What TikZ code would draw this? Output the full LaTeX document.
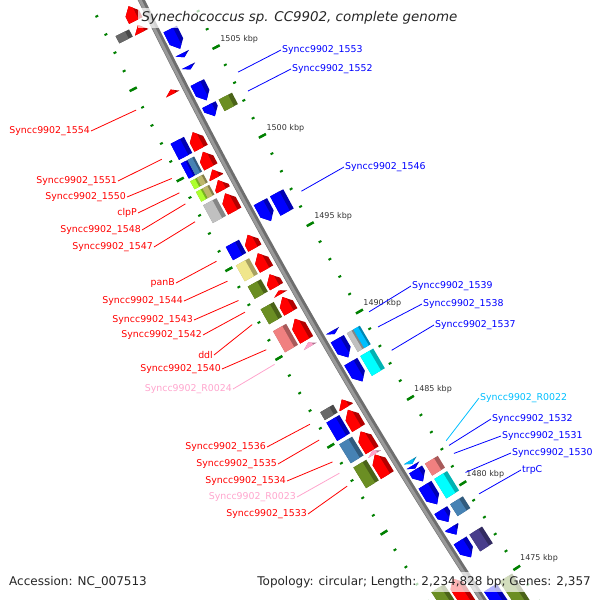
\documentclass[tikz,border=0pt]{standalone}
\usepackage{fontspec}
\setmainfont{DejaVu Sans}
\definecolor{fwdred}{RGB}{255,0,0}
\definecolor{revblue}{RGB}{0,0,255}
\definecolor{rnapink}{RGB}{255,165,205}
\definecolor{trnablue}{RGB}{0,191,255}
\definecolor{cogdim}{RGB}{105,105,105}
\definecolor{cogsteel}{RGB}{70,130,180}
\definecolor{coglime}{RGB}{173,255,47}
\definecolor{cogkhakidark}{RGB}{189,183,107}
\definecolor{cogsilver}{RGB}{192,192,192}
\definecolor{cogkhaki}{RGB}{240,230,140}
\definecolor{cogolive}{RGB}{107,142,35}
\definecolor{cogcoral}{RGB}{240,128,128}
\definecolor{cogcyan}{RGB}{0,255,255}
\definecolor{cogslate}{RGB}{72,61,139}
\definecolor{tickgreen}{RGB}{0,128,0}

% angle on the map circle: from a position along the map, or from kbp
\newcommand{\mapang}[1]{210+(#1-300.85)*0.009982}
\newcommand{\kbang}[1]{210+(1490-#1)*0.2016}

% forward gene, tip at #1
\newcommand{\fwdgene}[3]{%
  \pgfmathsetmacro\headlen{min(8,(#2)-(#1))}%
  \fill[#3!70!black] ({\mapang{#1}}:5760) -- ({\mapang{#1+\headlen}}:5767.5) -- ({\mapang{#2}}:5767.5) -- ({\mapang{#2}}:5752.5) -- ({\mapang{#1+\headlen}}:5752.5) -- cycle;
  \fill[#3] ({\mapang{#1}}:5760) -- ({\mapang{#1+\headlen}}:5767.5) -- ({\mapang{#2}}:5767.5) -- ({\mapang{#2}}:5757) -- ({\mapang{#1+0.4*\headlen}}:5757) -- cycle;}
% reverse gene, tip at #2
\newcommand{\revgene}[3]{%
  \pgfmathsetmacro\headlen{min(8,(#2)-(#1))}%
  \fill[#3!70!black] ({\mapang{#2}}:5733) -- ({\mapang{#2-\headlen}}:5740.5) -- ({\mapang{#1}}:5740.5) -- ({\mapang{#1}}:5725.5) -- ({\mapang{#2-\headlen}}:5725.5) -- cycle;
  \fill[#3] ({\mapang{#2}}:5733) -- ({\mapang{#2-\headlen}}:5740.5) -- ({\mapang{#1}}:5740.5) -- ({\mapang{#1}}:5730) -- ({\mapang{#2-0.4*\headlen}}:5730) -- cycle;}
% COG box from #1 to #2, radii #3..#4
\newcommand{\cogbox}[5]{%
  \pgfmathsetmacro\facer{#3+0.3*(#4-#3)}%
  \fill[#5!70!black] ({\mapang{#1}}:#3) -- ({\mapang{#1}}:#4) -- ({\mapang{#2}}:#4) -- ({\mapang{#2}}:#3) -- cycle;
  \fill[#5] ({\mapang{#1}}:\facer) -- ({\mapang{#1}}:#4) -- ({\mapang{#2}}:#4) -- ({\mapang{#2}}:\facer) -- cycle;}

\begin{document}
\begin{tikzpicture}[x=1pt, y=1pt,
  leftlab/.style={text=fwdred, anchor=east, inner sep=1pt, font=\fontsize{9.4}{11}\selectfont},
  rightlab/.style={text=revblue, anchor=west, inner sep=1pt, font=\fontsize{9.4}{11}\selectfont},
  kblab/.style={text=black!80, inner sep=0pt, font=\fontsize{8}{9.6}\selectfont},
  tickmin/.style={draw=tickgreen, line width=2pt},
  tickmaj/.style={draw=tickgreen, line width=2.5pt},
  callout/.style={line width=0.8pt},
  band/.style={fill=white, fill opacity=0.7, text opacity=1, text=black!85, inner xsep=4pt, inner ysep=4pt}]
\useasboundingbox (0,0) rectangle (600,-600);
\clip (0,0) rectangle (600,-600);

\begin{scope}[shift={(5295.8,2538.5)}]
\draw[line width=6.5pt, draw=black!57] ({\mapang{-130}}:5746) arc[start angle={\mapang{-130}}, end angle={\mapang{720}}, radius=5746];
\draw[line width=3pt, draw=black!40] ({\mapang{-130}}:5747.2) arc[start angle={\mapang{-130}}, end angle={\mapang{720}}, radius=5747.2];

\foreach \k in {1470,...,1512} {
  \draw[tickmin] ({\kbang{\k}}:5791.5) -- ({\kbang{\k}}:5794.5);
  \draw[tickmin] ({\kbang{\k}}:5698.5) -- ({\kbang{\k}}:5701.5);
}
\foreach \k in {1475,1480,...,1505} {
  \draw[tickmaj] ({\kbang{\k}}:5789) -- ({\kbang{\k}}:5797);
  \draw[tickmaj] ({\kbang{\k}}:5696) -- ({\kbang{\k}}:5704);
  \node[kblab] (kb\k) at ({\kbang{\k}+0.04}:5676) {\k\ kbp};
}

% forward strand
\fwdgene{-78}{-62}{fwdred}
\fwdgene{-57}{-49}{fwdred}
\fwdgene{15}{20}{fwdred}
\fwdgene{63}{81}{fwdred}
\fwdgene{85}{102}{fwdred}
\fwdgene{105}{114}{fwdred}
\fwdgene{117}{128}{fwdred}
\fwdgene{132}{152}{fwdred}
\fwdgene{179}{194}{fwdred}
\fwdgene{200}{218}{fwdred}
\fwdgene{224}{238}{fwdred}
\fwdgene{242.5}{246.5}{fwdred}
\fwdgene{250}{267}{fwdred}
\fwdgene{275}{299}{fwdred}
\fwdgene{302}{306.5}{rnapink}
\fwdgene{368}{377}{fwdred}
\fwdgene{380}{401}{fwdred}
\fwdgene{405}{427}{fwdred}
\fwdgene{427.5}{431.5}{rnapink}
\fwdgene{432}{456}{fwdred}
\fwdgene{578}{660}{fwdred}

\cogbox{-57}{-49}{5770}{5785}{cogdim}
\cogbox{63}{81}{5770}{5785}{revblue}
\cogbox{85}{102}{5777.5}{5785}{revblue}
\cogbox{85}{102}{5770}{5777.5}{cogsteel}
\cogbox{105}{114}{5777.5}{5785}{coglime}
\cogbox{105}{114}{5770}{5777.5}{cogkhakidark}
\cogbox{117}{128}{5777.5}{5785}{coglime}
\cogbox{117}{128}{5770}{5777.5}{cogkhakidark}
\cogbox{132}{152}{5770}{5785}{cogsilver}
\cogbox{179}{194}{5770}{5785}{revblue}
\cogbox{200}{218}{5770}{5785}{cogkhaki}
\cogbox{224}{238}{5770}{5785}{cogolive}
\cogbox{250}{267}{5770}{5785}{cogolive}
\cogbox{275}{299}{5770}{5785}{cogcoral}
\cogbox{368}{377}{5770}{5785}{cogdim}
\cogbox{380}{401}{5770}{5785}{revblue}
\cogbox{405}{427}{5770}{5785}{cogsteel}
\cogbox{432}{456}{5770}{5785}{cogolive}
\cogbox{578}{660}{5770}{5785}{cogolive}

% reverse strand
\revgene{-39}{-17}{revblue}
\revgene{-12}{-7.5}{revblue}
\revgene{2}{6}{revblue}
\revgene{21}{41}{revblue}
\revgene{46}{59}{revblue}
\revgene{156}{178}{revblue}
\revgene{304}{308}{revblue}
\revgene{313.5}{335}{revblue}
\revgene{340}{363}{revblue}
\revgene{455.5}{459.5}{trnablue}
\revgene{461}{465}{revblue}
\revgene{466}{480}{revblue}
\revgene{484}{507}{revblue}
\revgene{514}{528}{revblue}
\revgene{534}{543}{revblue}
\revgene{550}{570}{revblue}
\revgene{606}{660}{revblue}

\cogbox{46}{59}{5707}{5722}{cogolive}
\cogbox{156}{178}{5707}{5722}{revblue}
\cogbox{313.5}{335}{5714.5}{5722}{cogsilver}
\cogbox{313.5}{335}{5707}{5714.5}{trnablue}
\cogbox{340}{363}{5707}{5722}{cogcyan}
\cogbox{466}{480}{5707}{5722}{cogcoral}
\cogbox{484}{507}{5707}{5722}{cogcyan}
\cogbox{514}{528}{5707}{5722}{cogsteel}
\cogbox{550}{570}{5707}{5722}{cogslate}
\cogbox{606}{660}{5707}{5722}{cogolive}

\foreach \g/\s in {1554/17.5, 1551/72.5, 1550/94, clpP/110, 1548/122.5, 1547/142.5,
    panB/187, 1544/209.5, 1543/231.5, 1542/244.7, ddl/259, 1540/287.5, R0024/304.2,
    1536/373, 1535/391, 1534/416.5, R0023/429.5, 1533/444.5}
  \coordinate (e\g) at ({\mapang{\s}}:5800);
\foreach \g/\s in {1553/30.5, 1552/52, 1546/166.5, 1539/306, 1538/323.7, 1537/351,
    R0022/457.5, 1532/463, 1531/472.5, 1530/495, trpC/520.5}
  \coordinate (e\g) at ({\mapang{\s}}:5692);
\end{scope}

\node[leftlab] (l1554) at (91,-131) {Syncc9902\_1554};
\node[leftlab] (l1551) at (118,-181) {Syncc9902\_1551};
\node[leftlab] (l1550) at (127,-197) {Syncc9902\_1550};
\node[leftlab] (lclpP) at (138,-213) {clpP};
\node[leftlab] (l1548) at (142,-230) {Syncc9902\_1548};
\node[leftlab] (l1547) at (154,-247) {Syncc9902\_1547};
\node[leftlab] (lpanB) at (176,-283) {panB};
\node[leftlab] (l1544) at (184,-301) {Syncc9902\_1544};
\node[leftlab] (l1543) at (194,-320) {Syncc9902\_1543};
\node[leftlab] (l1542) at (203,-335) {Syncc9902\_1542};
\node[leftlab] (lddl) at (214,-355) {ddl};
\node[leftlab] (l1540) at (222,-369) {Syncc9902\_1540};
\node[leftlab, text=rnapink] (lR0024) at (233,-389) {Syncc9902\_R0024};
\node[leftlab] (l1536) at (267,-447) {Syncc9902\_1536};
\node[leftlab] (l1535) at (278,-464) {Syncc9902\_1535};
\node[leftlab] (l1534) at (287,-481) {Syncc9902\_1534};
\node[leftlab, text=rnapink] (lR0023) at (297,-497) {Syncc9902\_R0023};
\node[leftlab] (l1533) at (308,-514) {Syncc9902\_1533};

\node[rightlab] (l1553) at (281,-50) {Syncc9902\_1553};
\node[rightlab] (l1552) at (291,-69) {Syncc9902\_1552};
\node[rightlab] (l1546) at (344,-167) {Syncc9902\_1546};
\node[rightlab] (l1539) at (411,-286) {Syncc9902\_1539};
\node[rightlab] (l1538) at (422,-304) {Syncc9902\_1538};
\node[rightlab] (l1537) at (434,-325) {Syncc9902\_1537};
\node[rightlab, text=trnablue] (lR0022) at (479,-398) {Syncc9902\_R0022};
\node[rightlab] (l1532) at (491,-419) {Syncc9902\_1532};
\node[rightlab] (l1531) at (501,-436) {Syncc9902\_1531};
\node[rightlab] (l1530) at (511,-453) {Syncc9902\_1530};
\node[rightlab] (ltrpC) at (521,-470) {trpC};

\foreach \g in {1554,1551,1550,clpP,1548,1547,panB,1544,1543,1542,ddl,1540,1536,1535,1534,1533}
  \draw[callout, fwdred] (l\g.east) -- (e\g);
\foreach \g in {R0024,R0023}
  \draw[callout, rnapink] (l\g.east) -- (e\g);
\foreach \g in {1553,1552,1546,1539,1538,1537,1532,1531,1530,trpC}
  \draw[callout, revblue] (l\g.west) -- (e\g);
\draw[callout, trnablue] (lR0022.west) -- (eR0022);

\node[band, font=\fontsize{13.4}{16}\selectfont\itshape] (title) at (299.5,-18) {Synechococcus sp. CC9902, complete genome};
\node[band, anchor=west, font=\fontsize{12}{14}\selectfont] (accession) at (5,-582) {Accession: NC\_007513};
\node[band, anchor=east, font=\fontsize{12}{14}\selectfont] (topology) at (595,-582) {Topology: circular; Length: 2,234,828 bp; Genes: 2,357};
\end{tikzpicture}
\end{document}
